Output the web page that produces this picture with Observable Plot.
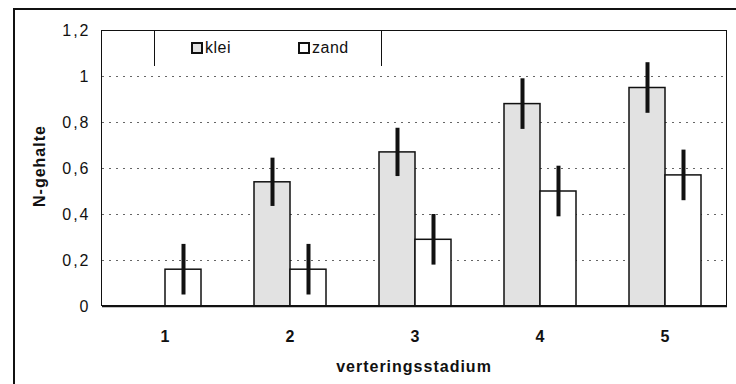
<!DOCTYPE html>
<html>
<head>
<meta charset="utf-8">
<script src="https://cdn.jsdelivr.net/npm/d3@7"></script>
<script src="https://cdn.jsdelivr.net/npm/@observablehq/plot@0.6"></script>
<style>
  html, body { margin: 0; padding: 0; background: white; }
  #wrap { position: relative; width: 736px; height: 384px; overflow: hidden; font-family: "Liberation Sans", Arial, sans-serif; color: #111; }
  #outer { position: absolute; left: 13px; top: 8px; width: 740px; height: 400px; border-top: 2px solid #111; border-left: 2px solid #111; box-sizing: border-box; }
  #plotframe { position: absolute; border: 1.5px solid #111; box-sizing: border-box; }
  #legend { position: absolute; left: 154px; top: 30px; width: 228px; height: 36px; border-left: 1.5px solid #111; border-right: 1.5px solid #111; box-sizing: border-box; font-size: 16px; letter-spacing: 0.5px; }
  .item { position: absolute; top: 9px; display: flex; align-items: center; }
  .sw { display: inline-block; width: 8px; height: 8px; border: 2px solid #111; margin-right: 2px; }
  #xlabel { position: absolute; left: 101px; width: 626px; top: 358px; text-align: center; font-weight: bold; font-size: 16px; letter-spacing: 1px; }
  #ylabel { position: absolute; left: 40px; top: 166px; transform: translate(-50%, -50%) rotate(-90deg); font-weight: bold; font-size: 16px; letter-spacing: 1px; white-space: nowrap; }
  g[aria-label="y-axis tick label"] text { letter-spacing: 2px; }
</style>
</head>
<body>
<div id="wrap">
  <div id="outer"></div>
  <div id="chart"></div>
</div>
<script>
const categories = ["1", "2", "3", "4", "5"];
const series = ["klei", "zand"];
const klei = [null, 0.54, 0.67, 0.88, 0.95];
const zand = [0.16, 0.16, 0.29, 0.50, 0.57];
const kleiErr = [null, 0.105, 0.105, 0.11, 0.11];
const zandErr = [0.11, 0.11, 0.11, 0.11, 0.11];
const yTicks = [0, 0.2, 0.4, 0.6, 0.8, 1, 1.2];
const xLabel = "verteringsstadium";
const yLabel = "N-gehalte";

const rows = [];
categories.forEach((c, i) => {
  if (klei[i] != null) rows.push({cat: c, series: "klei", value: klei[i], err: kleiErr[i]});
  if (zand[i] != null) rows.push({cat: c, series: "zand", value: zand[i], err: zandErr[i]});
});

const M = {left: 101, right: 9, top: 30, bottom: 78};
const W = 736, H = 384;
const fmt = d => String(d).replace(".", ",");

const plot = Plot.plot({
  width: W, height: H,
  marginLeft: M.left, marginRight: M.right, marginTop: M.top, marginBottom: M.bottom,
  style: {fontFamily: "'Liberation Sans', Arial, sans-serif", fontSize: "16px", color: "#111", background: "transparent", overflow: "visible"},
  fx: {domain: categories, padding: 0, label: null},
  x: {domain: series, paddingInner: 0, paddingOuter: 0.73, axis: null},
  y: {domain: [0, 1.2], label: null},
  color: {domain: series, range: ["#e2e2e2", "white"]},
  marks: [
    Plot.gridY(yTicks.filter(d => d > 0 && d < 1.2), {stroke: "#666", strokeOpacity: 1, strokeDasharray: "2,5"}),
    Plot.barY(rows, {fx: "cat", x: "series", y: "value", fill: "series", stroke: "#111", strokeWidth: 1.5}),
    Plot.ruleX(rows, {fx: "cat", x: "series", y1: d => d.value - d.err, y2: d => d.value + d.err, stroke: "#111", strokeWidth: 4}),
    Plot.ruleY([0], {stroke: "#111", strokeWidth: 1.5}),
    Plot.axisY({ticks: yTicks, tickSize: 0, tickPadding: 12, tickFormat: fmt, label: null, fontSize: 16}),
    Plot.axisFx({anchor: "bottom", tickSize: 0, tickPadding: 24, label: null, fontSize: 16, fontWeight: "bold"})
  ]
});
plot.style.position = "absolute";
plot.style.left = "0px";
plot.style.top = "0px";
const wrap = document.getElementById("wrap");
document.getElementById("chart").appendChild(plot);

const frame = document.createElement("div");
frame.id = "plotframe";
Object.assign(frame.style, {left: M.left + "px", top: M.top + "px", width: (W - M.left - M.right) + "px", height: (H - M.top - M.bottom) + "px"});
wrap.appendChild(frame);

const legend = document.createElement("div");
legend.id = "legend";
const lx = [36, 143];
series.forEach((s, i) => {
  const it = document.createElement("div");
  it.className = "item";
  it.style.left = lx[i] + "px";
  const sw = document.createElement("span");
  sw.className = "sw";
  sw.style.background = plot.scale("color").apply(s);
  it.appendChild(sw);
  const t = document.createElement("span");
  t.textContent = s;
  it.appendChild(t);
  legend.appendChild(it);
});
wrap.appendChild(legend);

const xl = document.createElement("div");
xl.id = "xlabel"; xl.textContent = xLabel; wrap.appendChild(xl);
const yl = document.createElement("div");
yl.id = "ylabel"; yl.textContent = yLabel; wrap.appendChild(yl);
</script>
</body>
</html>
